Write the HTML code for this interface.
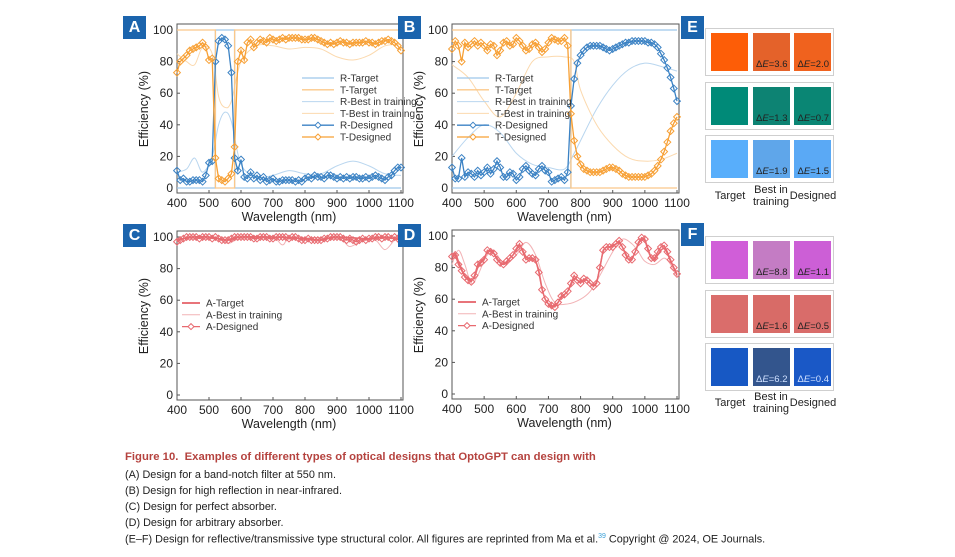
<!DOCTYPE html>
<html><head><meta charset="utf-8">
<style>
body{margin:0;background:#fff;font-family:"Liberation Sans",Arial,sans-serif;}
#wrap{position:relative;width:955px;height:557px;overflow:hidden;}
.badge{position:absolute;width:23px;height:23px;background:#1b64ad;color:#fff;font-weight:bold;font-size:16px;text-align:center;line-height:23px;}
.cap{position:absolute;left:125px;font-size:10.85px;color:#222;white-space:nowrap;}
.row{position:absolute;border:1.5px solid #cfcfcf;}
.sw{position:absolute;width:37px;height:38px;}
.sw span{position:absolute;right:2px;bottom:1px;font-size:9.5px;color:#222;}
.lab{position:absolute;font-size:11px;color:#222;text-align:center;line-height:12px;}
</style></head><body>
<div id="wrap">
<svg id="svg" width="955" height="557" style="position:absolute;left:0;top:0"></svg>
<div class="badge" style="left:123px;top:16px">A</div>
<div class="badge" style="left:398px;top:16px">B</div>
<div class="badge" style="left:681px;top:16px">E</div>
<div class="badge" style="left:123px;top:224px">C</div>
<div class="badge" style="left:398px;top:224px">D</div>
<div class="badge" style="left:681px;top:223px">F</div>

<div id="colors"></div>

<div class="cap" style="top:451px;color:#b5433f;font-weight:bold;font-size:11.3px">Figure 10.&nbsp; Examples of different types of optical designs that OptoGPT can design with</div>
<div class="cap" style="top:469px">(A) Design for a band-notch filter at 550 nm.</div>
<div class="cap" style="top:485px">(B) Design for high reflection in near-infrared.</div>
<div class="cap" style="top:501px">(C) Design for perfect absorber.</div>
<div class="cap" style="top:517px">(D) Design for arbitrary absorber.</div>
<div class="cap" style="top:533px">(E–F) Design for reflective/transmissive type structural color. All figures are reprinted from Ma et al.<sup style="color:#3aa0d8;font-size:7px">39</sup> Copyright @ 2024, OE Journals.</div>
</div>
<script>
// ---- data ----
const wl10 = [400,410,420,430,440,450,460,470,480,490,500,510,520,530,540,550,560,570,580,590,600,610,620,630,640,650,660,670,680,690,700,710,720,730,740,750,760,770,780,790,800,810,820,830,840,850,860,870,880,890,900,910,920,930,940,950,960,970,980,990,1000,1010,1020,1030,1040,1050,1060,1070,1080,1090,1100];
const xTicks = [400,500,600,700,800,900,1000,1100];
const yTicks = [0,20,40,60,80,100];
// Panel A
const aRDesigned = [11,5,6,4,4,5,5,5,4,8,16,17,80,93,95,94,90,73,19,11,18,7,6,10,6,8,5,7,4,5,6,4,4,5,5,5,5,4,5,4,6,7,6,8,7,7,6,8,8,7,6,7,6,7,6,7,7,6,6,7,6,7,8,7,6,5,7,8,11,13,13];
const aTDesigned = [73,80,82,84,87,88,89,90,92,89,81,82,19,6,5,4,6,9,26,80,87,81,92,94,89,92,94,93,92,95,94,93,94,95,94,95,95,95,95,94,94,94,95,95,94,93,92,91,92,91,92,93,92,92,91,92,92,92,92,93,92,92,91,92,93,93,94,93,92,90,87];
const aTargetWl = [400,520,520,580,580,1100];
const aRTarget = [0,0,100,100,0,0];
const aTTarget = [100,100,0,0,100,100];
const aBestWl = [400,430,455,480,510,530,550,570,600,650,700,750,800,850,900,950,1000,1050,1100];
const aRBest = [10,12,19,10,20,40,48,42,15,7,8,11,9,9,14,17,14,9,8];
const aTBest = [85,80,78,89,85,58,51,55,80,90,90,88,89,88,83,81,84,90,91];
// Panel B
const bRDesigned = [13,6,6,19,7,10,9,7,11,8,10,13,9,12,17,13,7,7,10,9,5,7,12,14,11,9,8,12,14,11,10,4,5,6,7,5,10,52,69,79,84,87,89,90,90,90,90,89,88,87,88,89,90,91,92,92,93,93,93,93,93,92,92,91,89,85,81,76,70,63,55];
const bTDesigned = [88,93,90,80,92,89,91,93,90,92,90,87,91,90,84,87,92,93,90,91,95,93,90,87,88,91,92,89,86,88,92,95,94,93,93,95,90,47,30,20,15,12,11,10,10,10,10,11,12,13,13,12,11,9,8,7,7,7,7,7,7,8,9,11,14,18,23,29,36,41,45];
const bTargetWl = [400,770,770,1100];
const bRTarget = [0,0,100,100];
const bTTarget = [100,100,0,0];
const bBestWl = [400,450,500,550,600,650,700,750,780,800,850,900,950,1000,1050,1100];
const bRBest = [20,32,40,35,22,15,13,12,22,30,50,65,75,79,77,74];
const bTBest = [78,70,55,45,60,80,83,83,80,62,40,27,19,17,18,22];
// Panel C
const cDesigned = [97,98,99,100,100,100,100,99,100,100,100,99,100,99,98,98,98,99,100,100,100,100,100,100,99,99,100,100,100,99,99,100,100,100,100,99,100,100,99,98,98,99,98,98,98,98,99,99,100,100,100,100,99,98,99,98,97,98,99,98,99,99,100,100,99,100,100,99,100,99,97];
const cTargetWl = [400,450,500,560,600,700,800,850,900,1000,1050,1100];
const cTarget = [98,100,100,98,100,100,99,98,100,99,100,98];
const cBestWl = [400,520,560,600,700,730,760,900,940,980,1020,1050,1080,1100];
const cBest = [99,99,96,99,99,95,99,99,94,98,98,92,98,99];
// Panel D
const dDesigned = [87,88,82,78,74,72,71,75,82,83,85,91,90,89,85,83,82,84,86,88,92,95,90,85,86,86,85,77,66,60,57,56,55,58,62,63,65,70,75,72,70,73,72,70,68,70,80,91,93,93,93,95,97,93,88,85,85,90,96,99,98,92,86,86,90,93,94,90,85,80,76];
const dTarget = [86,89,84,79,75,73,72,74,80,84,86,90,91,89,86,83,82,83,86,88,91,94,91,87,86,86,84,78,67,60,57,55,56,58,61,63,65,69,73,72,71,72,72,70,69,71,80,90,93,93,94,95,96,93,89,85,86,90,95,98,97,91,86,85,88,91,92,89,84,80,75];
const dBestWl = [400,420,440,460,480,510,540,560,600,630,660,690,720,760,800,830,860,900,930,960,980,1000,1030,1060,1080,1100];
const dBest = [82,91,82,70,75,88,88,82,88,96,88,70,58,57,60,65,75,90,98,95,90,84,82,86,82,75];
// Colors
const colorRowsE = [["#fd5d07","#e4622a","#f0621e"],["#008a78","#0d8373","#0a8674"],["#58aefb","#5fa6ea","#5aa9f5"]];
const deltaE = ["3.6","2.0","1.3","0.7","1.9","1.5"];
const colorRowsF = [["#d05ed8","#c47cc4","#cc5fd6"],["#da6d6b","#d86b67","#d96c6a"],["#1758c4","#33558d","#1a58c6"]];
const deltaF = ["8.8","1.1","1.6","0.5","6.2","0.4"];

// ---- drawing ----
const NS="http://www.w3.org/2000/svg";
const svg=document.getElementById('svg');
function mk(tag,attrs,parent){const e=document.createElementNS(NS,tag);for(const k in attrs)e.setAttribute(k,attrs[k]);(parent||svg).appendChild(e);return e;}
function axes(p){
  const sx=v=>p.x0+(v-400)/700*(p.x1-p.x0);
  const sy=v=>p.y0-(v/100)*(p.y0-p.y1);
  const g=mk('g',{});
  
  
  const fr=mk('rect',{x:p.x0,y:p.y1-6,width:p.x1-p.x0+2,height:p.y0-p.y1+11,fill:'none',stroke:'#555','stroke-width':1},g);
  
  
  xTicks.forEach(t=>{const x=sx(t);mk('line',{x1:x,x2:x,y1:p.y0+5,y2:p.y0+2,stroke:'#555'},g);
    const tx=mk('text',{x:x,y:p.y0+19,'font-size':12,'text-anchor':'middle',fill:'#222'},g);tx.textContent=t;
    
    });
  yTicks.forEach(t=>{const y=sy(t);mk('line',{x1:p.x0,x2:p.x0+3,y1:y,y2:y,stroke:'#555'},g);
    const tx=mk('text',{x:p.x0-4,y:y+4,'font-size':12,'text-anchor':'end',fill:'#222'},g);tx.textContent=t;
    
    });
  const xt=mk('text',{x:(p.x0+p.x1)/2,y:p.y0+33,'font-size':12.5,'text-anchor':'middle',fill:'#222'},g);xt.textContent='Wavelength (nm)';
  
  
  const cy=(p.y0+p.y1)/2;
  const yt=mk('text',{x:p.x0-29,y:cy,'font-size':12.5,'text-anchor':'middle',fill:'#222',transform:`rotate(-90 ${p.x0-29} ${cy})`},g);yt.textContent='Efficiency (%)';
  
  
  return {sx,sy,g};
}
function pts(ax,xs,ys){return xs.map((x,i)=>[ax.sx(x),ax.sy(ys[i])]);}
function smoothPath(P){let d=`M${P[0][0]},${P[0][1]}`;for(let i=0;i<P.length-1;i++){const p0=P[i-1]||P[i],p1=P[i],p2=P[i+1],p3=P[i+2]||p2;
  d+=` C${p1[0]+(p2[0]-p0[0])/6},${p1[1]+(p2[1]-p0[1])/6} ${p2[0]-(p3[0]-p1[0])/6},${p2[1]-(p3[1]-p1[1])/6} ${p2[0]},${p2[1]}`;}return d;}
function line(ax,xs,ys,color,w,name,smooth,op){
  const P=pts(ax,xs,ys);
  const d=smooth?smoothPath(P):'M'+P.map(p=>p.join(',')).join(' L');
  const e=mk('path',{d,fill:'none',stroke:color,'stroke-width':w,opacity:op||1},ax.g);
  
  
}
function markers(ax,xs,ys,color,name){
  line(ax,xs,ys,color,1.3,name+'-line',false);
  pts(ax,xs,ys).forEach(p=>{const r=3.4;
    const m=mk('path',{d:`M${p[0]},${p[1]-r} L${p[0]+r},${p[1]} L${p[0]},${p[1]+r} L${p[0]-r},${p[1]} Z`,fill:'none',stroke:color,'stroke-width':1},ax.g);
    
    });
}
function legend(ax,x,y,items){
  items.forEach((it,i)=>{const yy=y+i*11.8;
    mk('line',{x1:x,x2:x+(it.len||32),y1:yy,y2:yy,stroke:it.c,'stroke-width':it.w,opacity:it.op||1},ax.g);
    if(it.m){const cx=x+(it.len||32)/2;mk('path',{d:`M${cx},${yy-3} L${cx+3},${yy} L${cx},${yy+3} L${cx-3},${yy} Z`,fill:'#fff',stroke:it.c},ax.g);}
    const t=mk('text',{x:x+(it.len||32)+6,y:yy+3.5,'font-size':10,fill:'#333'},ax.g);t.textContent=it.t;
    
    });
}
const BLUE='#3b82c4',ORG='#f7a035',LB='#b9d6ef',LO='#fbd9ae',RED='#e0474f',LR='#f2b3b6';
// A
let A=axes({name:'panel-a',x0:177,x1:401,y0:188,y1:30});
line(A,aBestWl,aRBest,LB,1,'a-r-best',true);line(A,aBestWl,aTBest,LO,1,'a-t-best',true);
line(A,aTargetWl,aRTarget,'#9ec6ea',1.3,'a-r-target');line(A,aTargetWl,aTTarget,'#fbc88a',1.3,'a-t-target');
markers(A,wl10,aRDesigned,BLUE,'a-r-designed');markers(A,wl10,aTDesigned,ORG,'a-t-designed');
legend(A,302,78,[{t:'R-Target',c:'#9ec6ea',w:1.3},{t:'T-Target',c:'#fbc88a',w:1.3},{t:'R-Best in training',c:LB,w:1},{t:'T-Best in training',c:LO,w:1},{t:'R-Designed',c:BLUE,w:1.3,m:1},{t:'T-Designed',c:ORG,w:1.3,m:1}]);
// B
let B=axes({name:'panel-b',x0:452,x1:677,y0:188,y1:30});
line(B,bBestWl,bRBest,LB,1,'b-r-best',true);line(B,bBestWl,bTBest,LO,1,'b-t-best',true);
line(B,bTargetWl,bRTarget,'#9ec6ea',1.3,'b-r-target');line(B,bTargetWl,bTTarget,'#fbc88a',1.3,'b-t-target');
markers(B,wl10,bRDesigned,BLUE,'b-r-designed');markers(B,wl10,bTDesigned,ORG,'b-t-designed');
legend(B,457,78,[{t:'R-Target',c:'#9ec6ea',w:1.3},{t:'T-Target',c:'#fbc88a',w:1.3},{t:'R-Best in training',c:LB,w:1},{t:'T-Best in training',c:LO,w:1},{t:'R-Designed',c:BLUE,w:1.3,m:1},{t:'T-Designed',c:ORG,w:1.3,m:1}]);
// C
let C=axes({name:'panel-c',x0:177,x1:401,y0:395,y1:237});
line(C,cBestWl,cBest,LR,1,'c-best',true);line(C,cTargetWl,cTarget,RED,1.5,'c-target',true,0.8);
markers(C,wl10,cDesigned,'#e86a70','c-designed');
legend(C,182,303,[{t:'A-Target',c:RED,w:1.5,len:18},{t:'A-Best in training',c:LR,w:1,len:18},{t:'A-Designed',c:'#e86a70',w:1.2,m:1,len:18}]);
// D
let D=axes({name:'panel-d',x0:452,x1:677,y0:394,y1:236});
line(D,dBestWl,dBest,LR,1,'d-best',true);line(D,wl10,dTarget,RED,1.5,'d-target',true,0.8);
markers(D,wl10,dDesigned,'#e86a70','d-designed');
legend(D,458,302,[{t:'A-Target',c:RED,w:1.5,len:18},{t:'A-Best in training',c:LR,w:1,len:18},{t:'A-Designed',c:'#e86a70',w:1.2,m:1,len:18}]);

// swatches
const box=document.getElementById('colors');
function swatches(rows,deltas,tops,labelTop,pfx){
  rows.forEach((r,i)=>{
    const row=document.createElement('div');row.className='row';
    row.style.cssText=`left:705px;top:${tops[i]}px;width:127px;height:46px`;
    
    
    box.appendChild(row);
    r.forEach((c,j)=>{const s=document.createElement('div');s.className='sw';
      s.style.cssText=`left:${711+j*41.5}px;top:${tops[i]+5}px;background:${c}`;
      
      
      if(j>0){const sp=document.createElement('span');sp.innerHTML='Δ<i>E</i>='+deltas[i*2+j-1];
        if(c==='#33558d'||c==='#1a58c6')sp.style.color='#cfe0ff';s.appendChild(sp);}
      box.appendChild(s);});
  });
  [['Target',711,6],['Best in<br>training',752,0],['Designed',794,6]].forEach(l=>{
    const d=document.createElement('div');d.className='lab';d.innerHTML=l[0];
    d.style.cssText=`left:${l[1]-6}px;top:${labelTop+l[2]}px;width:50px`;
    
    
    box.appendChild(d);});
}
swatches(colorRowsE,deltaE,[28,82,135],184,'e');
swatches(colorRowsF,deltaF,[236,290,343],391,'f');
</script>
</body></html>
